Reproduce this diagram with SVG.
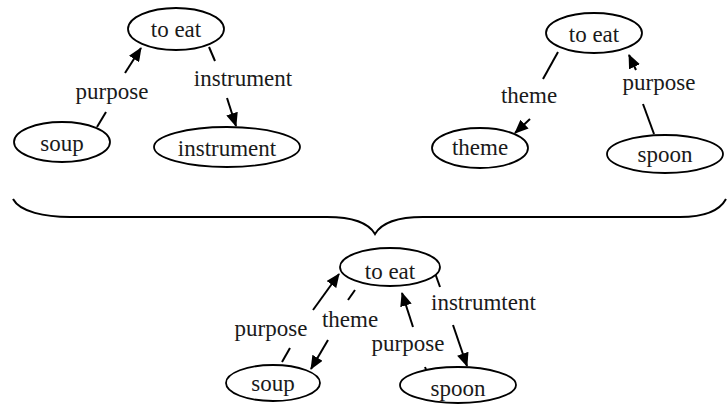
<svg xmlns="http://www.w3.org/2000/svg" width="727" height="407" viewBox="0 0 727 407" font-family="'Liberation Serif', 'Times New Roman', serif" font-size="23">
<style>
.n ellipse{fill:#fff;stroke:#000;stroke-width:1.8}
text{fill:#1a1a1a}
.c{text-anchor:middle}
#edges line{stroke:#000;stroke-width:2}
.a{marker-end:url(#ah)}
</style>
<defs>
<marker id="ah" viewBox="0 0 14 12" refX="13" refY="6" markerWidth="14" markerHeight="12" markerUnits="userSpaceOnUse" orient="auto">
<path d="M0,0 L14,6 L0,12 Z" fill="#000"/>
</marker>
</defs>
<rect width="727" height="407" fill="#fff"/>

<g id="edges">
<line x1="97" y1="127" x2="106" y2="112"/>
<line class="a" x1="125" y1="73" x2="141" y2="48"/>
<line x1="209" y1="47" x2="215" y2="61"/>
<line class="a" x1="227" y1="98" x2="236" y2="126"/>
<line x1="558" y1="52" x2="543" y2="79"/>
<line class="a" x1="530" y1="119" x2="515" y2="133"/>
<line x1="654" y1="134" x2="643" y2="104"/>
<line class="a" x1="636" y1="70" x2="629" y2="55"/>
<line x1="282" y1="362" x2="290" y2="348"/>
<line class="a" x1="313" y1="310" x2="339" y2="274"/>
<line x1="355" y1="290" x2="348" y2="300"/>
<line class="a" x1="328" y1="340" x2="311" y2="369"/>
<line x1="427" y1="372" x2="425" y2="367"/>
<line class="a" x1="413" y1="327" x2="402" y2="293"/>
<line x1="435" y1="273" x2="440" y2="287"/>
<line class="a" x1="453" y1="325" x2="467" y2="366"/>
</g>

<g id="labels">
<text class="c" x="112" y="99">purpose</text>
<text class="c" x="243" y="86">instrument</text>
<text class="c" x="529" y="103">theme</text>
<text class="c" x="659" y="90">purpose</text>
<text class="c" x="271" y="336">purpose</text>
<text class="c" x="350" y="327">theme</text>
<text class="c" x="408" y="351">purpose</text>
<text x="431" y="310">instrumtent</text>
</g>

<g id="n1" class="n"><ellipse cx="176" cy="29" rx="48" ry="21"/><text class="c" x="176" y="37">to eat</text></g>
<g id="n2" class="n"><ellipse cx="62" cy="142" rx="48" ry="20"/><text class="c" x="62" y="151">soup</text></g>
<g id="n3" class="n"><ellipse cx="227" cy="147" rx="73" ry="20"/><text class="c" x="227" y="156">instrument</text></g>
<g id="n4" class="n"><ellipse cx="594" cy="33" rx="48" ry="20"/><text class="c" x="594" y="42">to eat</text></g>
<g id="n5" class="n"><ellipse cx="480" cy="148" rx="48" ry="20"/><text class="c" x="480" y="155">theme</text></g>
<g id="n6" class="n"><ellipse cx="665" cy="154" rx="58" ry="19"/><text class="c" x="665" y="162">spoon</text></g>
<g id="n7" class="n"><ellipse cx="390" cy="267" rx="50" ry="19"/><text class="c" x="390" y="279">to eat</text></g>
<g id="n8" class="n"><ellipse cx="273" cy="383" rx="47" ry="18"/><text class="c" x="273" y="391">soup</text></g>
<g id="n9" class="n"><ellipse cx="458" cy="385" rx="58" ry="18"/><text class="c" x="458" y="396">spoon</text></g>

<g id="brace">
<path d="M13,199 C20,212 45,217 70,217 L327,217 C350,217 368,222 375,234 C382,222 400,217 423,217 L680,217 C705,217 720,210 726,199" fill="none" stroke="#000" stroke-width="2"/>
</g>
</svg>
